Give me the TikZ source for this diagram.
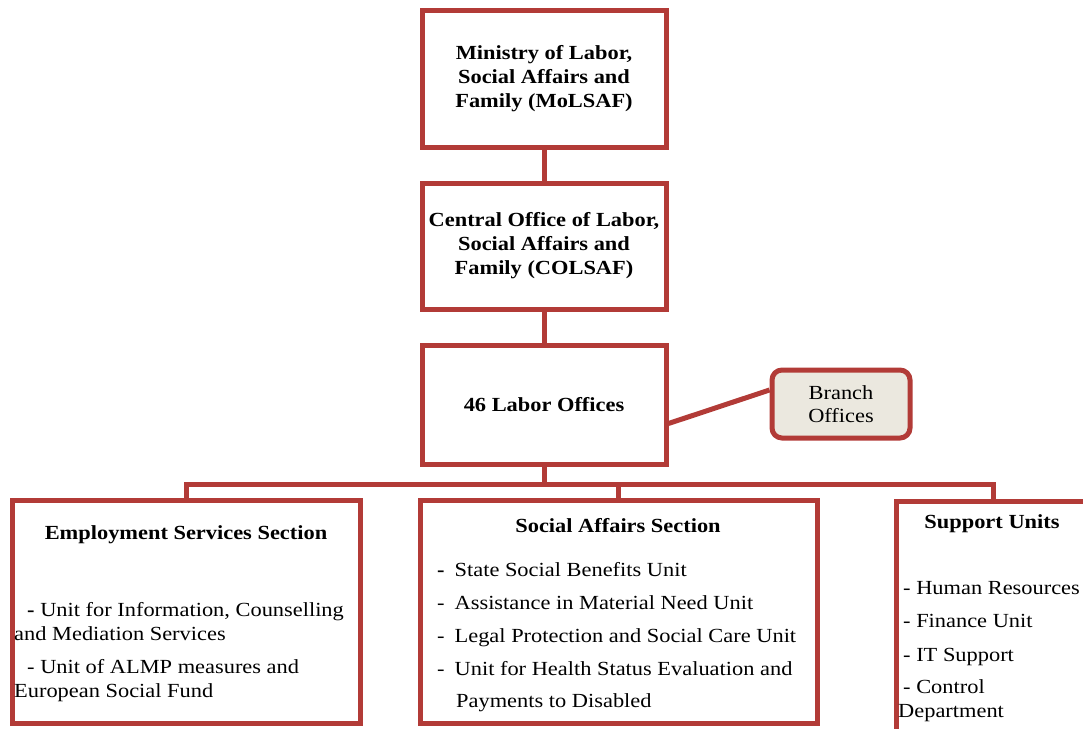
\documentclass[tikz,border=0pt]{standalone}
\usepackage{fontspec}
\setmainfont{Liberation Serif}[FakeStretch=1.12]
\usepackage{tikz}
\definecolor{boxred}{HTML}{B23B37}
\definecolor{branchfill}{HTML}{EBE8DF}

\begin{document}
\begin{tikzpicture}[x=1pt,y=-1pt,
  box/.style={draw=boxred,line width=5pt,fill=white,inner sep=0pt},
  head/.style={font=\bfseries\fontsize{20}{24}\selectfont,align=center},
  item/.style={anchor=base west,inner sep=0pt,font=\fontsize{20}{24}\selectfont},
  link/.style={draw=boxred,line width=5pt}]
\useasboundingbox (0,0) rectangle (1083,728);

\node [box,head,minimum width=244pt,minimum height=137pt] (minis) at (544,78.5) {Ministry of Labor,\\Social Affairs and\\Family (MoLSAF)};
\node [box,head,minimum width=244pt,minimum height=126pt] (colsaf) at (544,246) {Central Office of Labor,\\Social Affairs and\\Family (COLSAF)};
\node [box,head,minimum width=244pt,minimum height=119pt] (labor) at (544,404.5) {46 Labor Offices};
\node [box,fill=branchfill,rounded corners=10pt,align=center,font=\fontsize{20}{23}\selectfont,minimum width=138pt,minimum height=68pt] (branch) at (841,404) {Branch\\Offices};

\node [box,minimum width=348pt,minimum height=223pt] (employ) at (186,611.5) {};
\node [box,minimum width=397pt,minimum height=223pt] (social) at (618.5,611.5) {};
\node [box,minimum width=194pt,minimum height=258pt] (support) at (993,630) {};

\node [head,anchor=base] (employT) at (186,539) {Employment Services Section};
\node [item] (employA) at (27,616) {\textbf{-} Unit for Information, Counselling};
\node [item] (employB) at (14,640) {and Mediation Services};
\node [item] (employC) at (27,673) {- Unit of ALMP measures and};
\node [item] (employD) at (14,697) {European Social Fund};

\node [head,anchor=base] (socialT) at (618,532) {Social Affairs Section};
\node [item] (socialA) at (437,576) {\textbf{-}\hspace{10pt}State Social Benefits Unit};
\node [item] (socialB) at (437,609) {-\hspace{10pt}Assistance in Material Need Unit};
\node [item] (socialC) at (437,642) {-\hspace{10pt}Legal Protection and Social Care Unit};
\node [item] (socialD) at (437,675) {-\hspace{10pt}Unit for Health Status Evaluation and};
\node [item] (socialE) at (456,707) {Payments to Disabled};

\node [head,anchor=base] (supportT) at (992,528) {Support Units};
\node [item] (supportA) at (903,594) {- Human Resources};
\node [item] (supportB) at (903,627) {- Finance Unit};
\node [item] (supportC) at (903,661) {- IT Support};
\node [item] (supportD) at (903,693) {- Control};
\node [item] (supportE) at (898,717) {Department};

\draw [link] (minis) -- (colsaf); \draw [link] (colsaf) -- (labor);
\coordinate (bus) at (544,484);
\draw [link] (labor) -- (bus);
\draw [link] (employ.north) |- (bus) -| (support.north);
\draw [link] (social.north) -- (social.north |- bus);
\draw [link] ([yshift=-19pt]labor.east) -- ([yshift=14pt]branch.west);

\end{tikzpicture}
\end{document}
